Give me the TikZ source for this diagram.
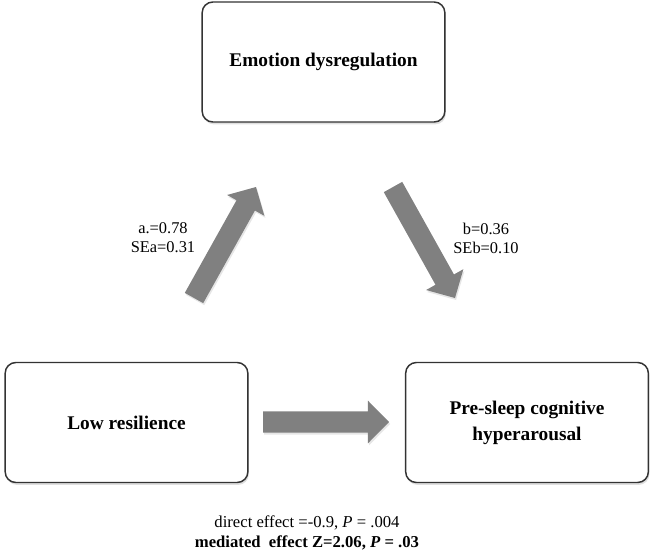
\documentclass[tikz,border=0pt]{standalone}
\usepackage{fontspec}
\setmainfont{Liberation Serif}
\usetikzlibrary{calc,shadows}

% block arrow from tail #1 to tip #2
\newcommand{\blockarrow}[2]{%
  \coordinate (base) at ($(#2)!15.8pt!(#1)$);
  \fill[arrowshape] ($(#1)!7.9pt!90:(#2)$) -- ($(base)!7.9pt!90:(#2)$)
    -- ($(base)!16pt!90:(#2)$) -- (#2) -- ($(base)!16pt!-90:(#2)$)
    -- ($(base)!7.9pt!-90:(#2)$) -- ($(#1)!7.9pt!-90:(#2)$) -- cycle;
}

\begin{document}
\begin{tikzpicture}[x=0.75pt, y=-0.75pt,
    box/.style={rectangle, draw=black!80, line width=1.1pt, rounded corners=8pt, fill=white,
      minimum width=182pt, minimum height=90pt, align=center,
      font=\fontsize{14.5}{19.5}\selectfont\bfseries,
      drop shadow={opacity=0.25, shadow xshift=0.8pt, shadow yshift=-1.8pt}},
    coef/.style={align=center, font=\fontsize{12.3}{14.3}\selectfont},
    arrowshape/.style={fill=black!50, drop shadow={opacity=0.2, shadow xshift=0.8pt, shadow yshift=-1.5pt}}]
  \useasboundingbox (0,0) rectangle (652,556);

  \node[box] (dys) at (323.5,62) {Emotion dysregulation};
  \node[box] (res) at (126.5,422.5) {Low resilience};
  \node[box] (hyp) at (527,422.5) {Pre-sleep cognitive\\hyperarousal};

  \coordinate (a0) at (194,298);
  \coordinate (a1) at (256,187);
  \coordinate (b0) at (393,187);
  \coordinate (b1) at (455,298);
  \coordinate (c0) at (263,422);
  \coordinate (c1) at (389,422);

  \blockarrow{a0}{a1}
  \blockarrow{b0}{b1}
  \blockarrow{c0}{c1}

  \node[coef] (la) at (163,238) {a.=0.78\\SEa=0.31};
  \node[coef] (lb) at (486,238) {b=0.36\\SEb=0.10};
  \node[coef, font=\fontsize{12.5}{15}\selectfont] (eff) at (307,533)
    {direct effect =-0.9, \textit{P} = .004\\\textbf{mediated~ effect Z=2.06, \textit{P} = .03}};
\end{tikzpicture}
\end{document}
